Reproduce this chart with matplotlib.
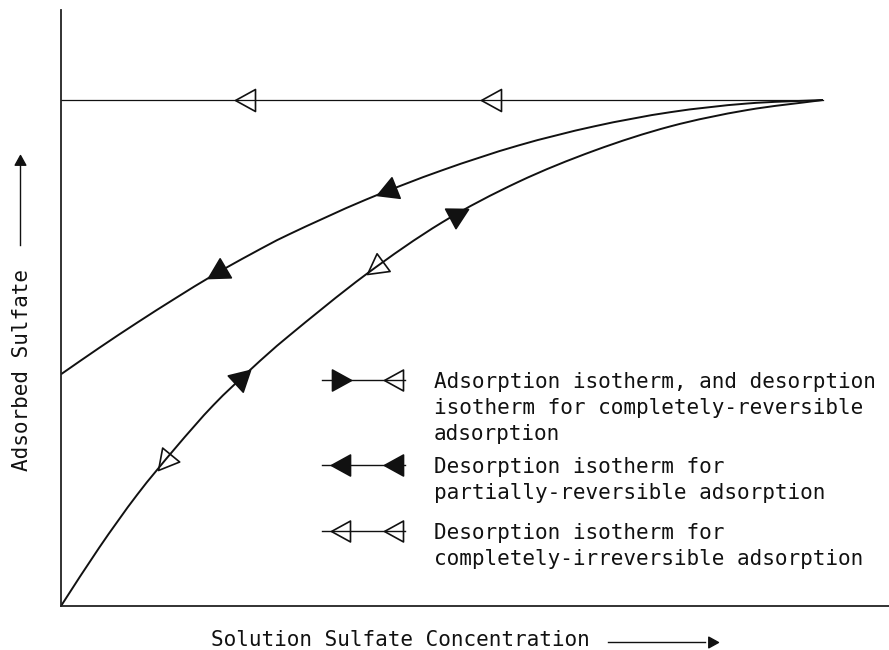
import numpy as np
import matplotlib
matplotlib.use("Agg")
import matplotlib.pyplot as plt
from matplotlib.markers import MarkerStyle
from matplotlib.path import Path
from matplotlib.patches import PathPatch
from matplotlib.transforms import Affine2D

# Relative solution concentration (x) and adsorbed sulfate (y)
conc = [0.0, 0.05, 0.10, 0.15, 0.20, 0.25, 0.30, 0.40, 0.50, 0.60, 0.70, 0.80, 0.90, 1.0]
adsorption = [0.0, 0.115, 0.220, 0.312, 0.397, 0.469, 0.535, 0.655, 0.758, 0.838,
              0.900, 0.948, 0.980, 1.0]
partial_desorption = [0.458, 0.510, 0.560, 0.608, 0.654, 0.696, 0.735, 0.803, 0.861,
                      0.910, 0.948, 0.976, 0.993, 1.0]
irrev_conc = [0.0, 1.0]
irrev_desorption = [1.0, 1.0]

# Arrowhead positions along each curve (x of the arrow tip)
irrev_arrows = [0.228, 0.551]
partial_arrows = [0.193, 0.415]
ads_up_arrows = [0.248, 0.534]
ads_down_arrows = [0.127, 0.402]

legend_labels = [
    ["Adsorption isotherm, and desorption", "isotherm for completely-reversible",
     "adsorption"],
    ["Desorption isotherm for", "partially-reversible adsorption"],
    ["Desorption isotherm for", "completely-irreversible adsorption"],
]
xlabel = "Solution Sulfate Concentration"
ylabel = "Adsorbed Sulfate"

FONT = "DejaVu Sans Mono"
FS = 15.1
INK = "#111111"

W, H = 889, 650
fig = plt.figure(figsize=(W / 100, H / 100), dpi=100)
ax = fig.add_axes([61 / W, 44 / H, (W - 61) / W, 596 / H])
ax.set_xlim(0, 828 / 762)
ax.set_ylim(0, 596 / 506)
ax.set_xticks([])
ax.set_yticks([])
for s in ("top", "right"):
    ax.spines[s].set_visible(False)
for s in ("left", "bottom"):
    ax.spines[s].set_linewidth(1.3)
    ax.spines[s].set_color("#222222")


def smooth_path(xs, ys):
    """Catmull-Rom curve through the points, expressed as cubic Bezier segments."""
    p = np.column_stack([xs, ys]).astype(float)
    ext = np.vstack([2 * p[0] - p[1], p, 2 * p[-1] - p[-2]])
    verts = [p[0]]
    codes = [Path.MOVETO]
    for i in range(1, len(ext) - 2):
        p0, p1, p2, p3 = ext[i - 1], ext[i], ext[i + 1], ext[i + 2]
        verts += [p1 + (p2 - p0) / 6, p2 - (p3 - p1) / 6, p2]
        codes += [Path.CURVE4] * 3
    return Path(verts, codes)


ax.plot(irrev_conc, irrev_desorption, color=INK, lw=0.9)
for ys in (partial_desorption, adsorption):
    ax.add_patch(PathPatch(smooth_path(conc, ys), facecolor="none", edgecolor=INK,
                           lw=1.4))

# triangle arrowhead with its tip at the origin, pointing along +x
TRI_L, TRI_W = 20.0, 22.0
tri_path = Path([(0, 0), (-TRI_L, TRI_W / 2), (-TRI_L, -TRI_W / 2), (0, 0)],
                [Path.MOVETO, Path.LINETO, Path.LINETO, Path.CLOSEPOLY])
MS = 2 * TRI_L * 72 / 100


def draw_head(x, y, angle, filled):
    m = MarkerStyle(tri_path, transform=Affine2D().rotate_deg(angle))
    ax.plot([x], [y], linestyle="none", marker=m, markersize=MS,
            mfc=INK if filled else "none", mec=INK, mew=1.2, zorder=3)


def heads_on(xs, ys, tips, forward, filled):
    for xt in tips:
        yt = np.interp(xt, xs, ys)
        h = 0.03
        p0 = ax.transData.transform((xt - h, np.interp(xt - h, xs, ys)))
        p1 = ax.transData.transform((xt + h, np.interp(xt + h, xs, ys)))
        d = (p1 - p0) if forward else (p0 - p1)
        ang = np.degrees(np.arctan2(d[1], d[0]))
        draw_head(xt, yt, ang, filled)


heads_on(irrev_conc, irrev_desorption, irrev_arrows, False, False)
heads_on(conc, partial_desorption, partial_arrows, False, True)
heads_on(conc, adsorption, ads_up_arrows, True, True)
heads_on(conc, adsorption, ads_down_arrows, False, False)


# legend, placed in figure pixel coordinates
def px(x, y):
    return x / W, 1 - y / H


legend_rows = [380, 465, 531]
LINE_STEP = 26
legend_heads = [(0.0, True, 180.0, False), (180.0, True, 180.0, True),
                (180.0, False, 180.0, False)]
for row, lines, (a1, f1, a2, f2) in zip(legend_rows, legend_labels, legend_heads):
    x0, y0 = px(322, row)
    x1, _ = px(405, row)
    fig.add_artist(plt.Line2D([x0, x1], [y0, y0], color=INK, lw=1.0,
                              transform=fig.transFigure))
    for cx, ang, filled in ((341, a1, f1), (394, a2, f2)):
        tip = cx + (TRI_L / 2 if ang == 0.0 else -TRI_L / 2)
        m = MarkerStyle(tri_path, transform=Affine2D().rotate_deg(ang))
        fig.add_artist(plt.Line2D([tip / W], [y0], linestyle="none", marker=m,
                                  markersize=MS * 0.95, mfc=INK if filled else "none",
                                  mec=INK, mew=1.2, transform=fig.transFigure))
    for k, line in enumerate(lines):
        fig.text(*px(434, row + k * LINE_STEP), line, family=FONT, fontsize=FS,
                 color=INK, ha="left", va="center_baseline")

# axis labels with direction arrows
fig.text(*px(400, 638), xlabel, family=FONT, fontsize=FS, color=INK,
         ha="center", va="center_baseline")
fig.add_artist(plt.Line2D([608 / W, 705 / W], [1 - 642 / H] * 2, color=INK, lw=1.0,
                          transform=fig.transFigure))
fig.add_artist(plt.Line2D([718 / W], [1 - 642 / H], linestyle="none",
                          marker=MarkerStyle(tri_path), markersize=14,
                          mfc=INK, mec=INK, transform=fig.transFigure))

fig.text(*px(22, 370), ylabel, family=FONT, fontsize=FS, color=INK,
         ha="center", va="center", rotation=90)
fig.add_artist(plt.Line2D([20 / W] * 2, [1 - 245 / H, 1 - 165 / H], color=INK, lw=1.0,
                          transform=fig.transFigure))
fig.add_artist(plt.Line2D([20 / W], [1 - 155 / H], linestyle="none",
                          marker=MarkerStyle(tri_path, transform=Affine2D().rotate_deg(90)),
                          markersize=14, mfc=INK, mec=INK, transform=fig.transFigure))

fig.savefig("out.png", dpi=100)
